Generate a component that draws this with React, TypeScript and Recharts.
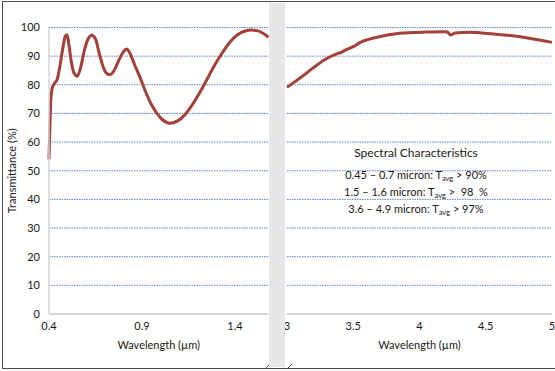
import { LineChart, Line, XAxis, YAxis, CartesianGrid } from "recharts"

// left panel: visible / near IR
const visWavelength = [
  0.4, 0.405, 0.41, 0.418, 0.43, 0.445, 0.46, 0.475, 0.488, 0.497, 0.507, 0.52, 0.535, 0.552,
  0.57, 0.59, 0.61, 0.63, 0.65, 0.67, 0.69, 0.71, 0.728, 0.75, 0.775, 0.8, 0.818, 0.835, 0.86,
  0.89, 0.92, 0.95, 0.98, 1.01, 1.05, 1.09, 1.13, 1.17, 1.21, 1.25, 1.29, 1.33, 1.37, 1.41,
  1.45, 1.49, 1.52, 1.55, 1.58,
]
const visTransmittance = [
  54, 66, 75, 79, 80.5, 82, 87, 93, 97, 97.5, 94, 88, 84, 83,
  86, 92, 96, 97.3, 96, 91, 86.5, 84, 83.5, 85, 88.5, 91.5, 92.5, 91, 87,
  82.5, 77.5, 73.2, 70, 67.8, 66.6, 67.3, 69.5, 73, 77.2, 82, 86.8, 91, 94.7, 97.3,
  98.7, 99.1, 98.9, 98, 96.6,
]

// right panel: mid IR
const irWavelength = [
  3.0, 3.12, 3.2, 3.3, 3.38, 3.41, 3.44, 3.5, 3.55, 3.68, 3.85, 4.05, 4.18, 4.21, 4.235,
  4.27, 4.38, 4.56, 4.76, 5.0,
]
const irTransmittance = [
  79.1, 83.1, 86, 89.2, 90.9, 91.3, 92.1, 93.3, 94.7, 96.6, 98, 98.4, 98.5, 98.4, 97.4,
  98.1, 98.3, 97.7, 96.8, 94.8,
]

const yTicks = [0, 10, 20, 30, 40, 50, 60, 70, 80, 90, 100]
const visTicks = [0.4, 0.9, 1.4]
const irTicks = [3, 3.5, 4, 4.5, 5]

const specLines = [
  { range: "0.45 – 0.7 micron: T", avg: "avg", value: " > 90%" },
  { range: "1.5 – 1.6 micron: T", avg: "avg", value: " >  98  %" },
  { range: "3.6 – 4.9 micron: T", avg: "avg", value: " > 97%" },
]

const visData = visWavelength.map((w, i) => ({ w, t: visTransmittance[i] }))
const irData = irWavelength.map((w, i) => ({ w, t: irTransmittance[i] }))

const font = "Lato, 'Open Sans', sans-serif"
const textColor = "#1A1718"
const curveColor = "#A43F39"
const gridColor = "#3D6CD0"
const axisColor = "#D4D4D4"
const tick = { fontSize: 11, fill: textColor, fontFamily: font }

export default function App() {
  return (
    <div style={{ position: "relative", width: 555, height: 371, overflow: "hidden", background: "#fff", fontFamily: font }}>
      <style>{`body{margin:0}`}</style>

      <div style={{ position: "absolute", left: 0, top: 0 }}>
        <LineChart width={270} height={371} data={visData} margin={{ top: 27.5, right: 1.5, bottom: 0, left: 0 }}>
          <CartesianGrid vertical={false} stroke={gridColor} strokeOpacity={0.85} strokeDasharray="1.5 1" horizontalValues={yTicks.filter((v) => v > 0)} />
          <XAxis
            dataKey="w"
            type="number"
            domain={[0.4, 1.58]}
            ticks={visTicks}
            interval={0}
            height={57}
            tick={tick}
            tickLine={false}
            axisLine={{ stroke: axisColor, strokeWidth: 2 }}
            label={{ value: "Wavelength (µm)", position: "insideBottom", offset: 22, style: { fontSize: 11, fill: textColor, fontFamily: font } }}
          />
          <YAxis
            type="number"
            domain={[0, 100]}
            ticks={yTicks}
            interval={0}
            width={49}
            tick={tick}
            tickLine={false}
            tickMargin={3}
            axisLine={{ stroke: axisColor, strokeWidth: 1.5 }}
            label={{ value: "Transmittance (%)", angle: -90, position: "insideLeft", offset: 12, style: { textAnchor: "middle", fontSize: 11, fill: textColor, fontFamily: font } }}
          />
          <Line type="monotone" dataKey="t" stroke={curveColor} strokeWidth={3} dot={false} isAnimationActive={false} />
        </LineChart>
      </div>

      <div style={{ position: "absolute", left: 285, top: 0 }}>
        <LineChart width={270} height={371} data={irData} margin={{ top: 27.5, right: 3, bottom: 0, left: 2 }}>
          <CartesianGrid vertical={false} stroke={gridColor} strokeOpacity={0.85} strokeDasharray="1.5 1" horizontalValues={yTicks.filter((v) => v > 0)} />
          <XAxis
            dataKey="w"
            type="number"
            domain={[3, 5]}
            ticks={irTicks}
            interval={0}
            height={57}
            tick={tick}
            tickLine={false}
            axisLine={{ stroke: axisColor, strokeWidth: 2 }}
            label={{ value: "Wavelength (µm)", position: "insideBottom", offset: 22, style: { fontSize: 11, fill: textColor, fontFamily: font } }}
          />
          <YAxis type="number" domain={[0, 100]} ticks={yTicks} hide />
          <Line type="monotone" dataKey="t" stroke={curveColor} strokeWidth={3} dot={false} isAnimationActive={false} />
        </LineChart>
      </div>

      <div style={{ position: "absolute", left: 296, top: 144, width: 240, textAlign: "center", color: textColor }}>
        <div style={{ fontSize: 12, lineHeight: "18px" }}>Spectral Characteristics</div>
        <div style={{ height: 6 }} />
        {specLines.map((l) => (
          <div key={l.range} style={{ fontSize: 11, lineHeight: "13px", whiteSpace: "pre" }}>
            {l.range}
            <span style={{ fontSize: 7.5, verticalAlign: "-2px" }}>{l.avg}</span>
            {l.value}
          </div>
        ))}
      </div>

      {/* axis break bar and frame */}
      <div style={{ position: "absolute", left: 269, top: 3, width: 16, height: 364, background: "#E6E7E8" }} />
      <div style={{ position: "absolute", left: 2, top: 1, width: 600, height: 366, borderLeft: "1.5px solid #4D4D4F", borderTop: "1.5px solid #4D4D4F", borderBottom: "1.5px solid #4D4D4F" }} />
      <svg style={{ position: "absolute", left: 0, top: 0 }} width={555} height={371}>
        <line x1={265} y1={369} x2={269} y2={365} stroke="#4D4D4F" strokeWidth={1} />
        <line x1={287} y1={369} x2={292} y2={364} stroke="#4D4D4F" strokeWidth={1} />
      </svg>
    </div>
  )
}
